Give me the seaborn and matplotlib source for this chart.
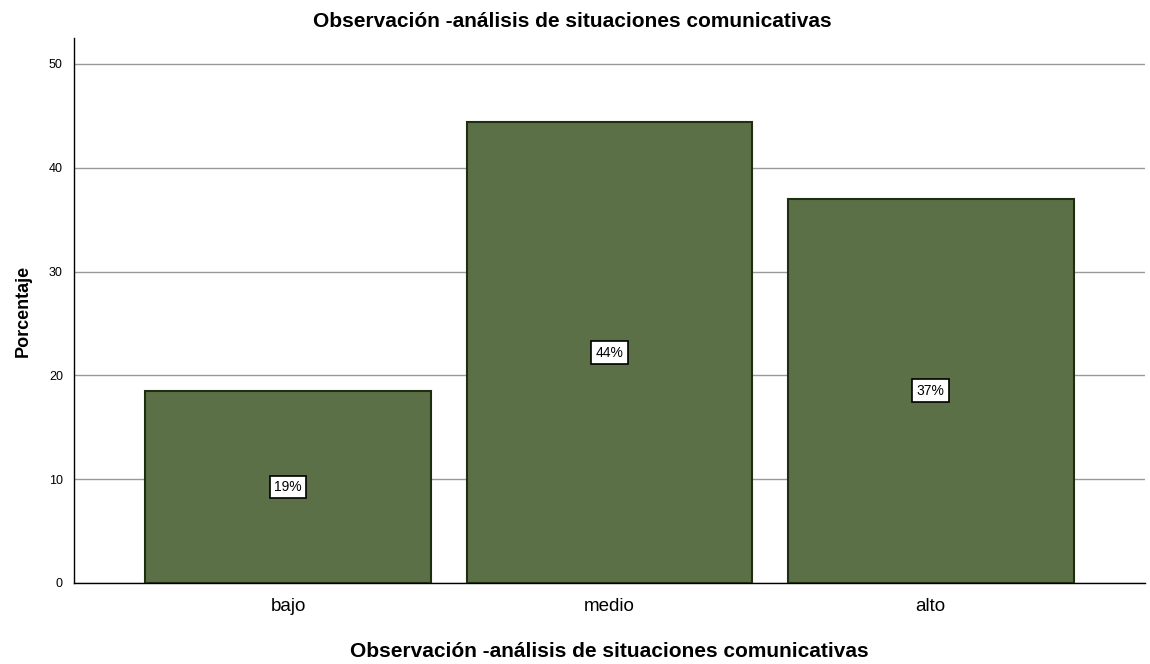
import matplotlib
matplotlib.use("Agg")
import matplotlib.pyplot as plt
import seaborn as sns
import pandas as pd

# data
categorias = ["bajo", "medio", "alto"]
porcentajes = [18.5, 44.4, 37.0]
etiquetas = ["19%", "44%", "37%"]
ticks_y = [0, 10, 20, 30, 40, 50]

titulo = "Observación -análisis de situaciones comunicativas"


def main():
    sns.set_style("white")
    plt.rcParams["font.family"] = ["Liberation Sans", "DejaVu Sans"]
    plt.rcParams["text.color"] = "black"
    plt.rcParams["axes.labelcolor"] = "black"
    plt.rcParams["xtick.color"] = "black"
    plt.rcParams["ytick.color"] = "black"

    df = pd.DataFrame({"categoria": categorias, "porcentaje": porcentajes})

    fig = plt.figure(figsize=(11.5, 6.64), dpi=100)
    ax = fig.add_axes([0.0643, 0.122, 0.9314, 0.8208])

    sns.barplot(data=df, x="categoria", y="porcentaje", color="#5b7047",
                saturation=1, width=0.89, edgecolor="#1f2e10", linewidth=1.5,
                ax=ax, zorder=3)

    # labels centred in each bar
    for i, (v, txt) in enumerate(zip(porcentajes, etiquetas)):
        ax.text(i, v / 2, txt, ha="center", va="center", fontsize=10,
                color="black", zorder=5,
                bbox=dict(boxstyle="square,pad=0.32", facecolor="white",
                          edgecolor="black", linewidth=1.2))

    ax.set_xlim(-0.667, 2.667)
    ax.set_ylim(0, 52.5)
    ax.set_yticks(ticks_y)
    ax.yaxis.grid(True, color="#9a9a9a", linewidth=1, zorder=0)
    ax.set_axisbelow(True)

    for s in ["top", "right"]:
        ax.spines[s].set_visible(False)
    for s in ["left", "bottom"]:
        ax.spines[s].set_color("black")
        ax.spines[s].set_linewidth(1)

    ax.tick_params(axis="y", length=0, labelsize=9, pad=8)
    ax.tick_params(axis="x", length=0, labelsize=13.5, pad=11)

    ax.set_title(titulo, fontsize=15, fontweight="bold", pad=8, x=0.465)
    ax.set_xlabel(titulo, fontsize=15, fontweight="bold")
    ax.xaxis.set_label_coords(0.5, -0.108)
    ax.set_ylabel("Porcentaje", fontsize=13, fontweight="bold", labelpad=12)

    fig.savefig("out.png", dpi=100)


if __name__ == "__main__":
    main()
